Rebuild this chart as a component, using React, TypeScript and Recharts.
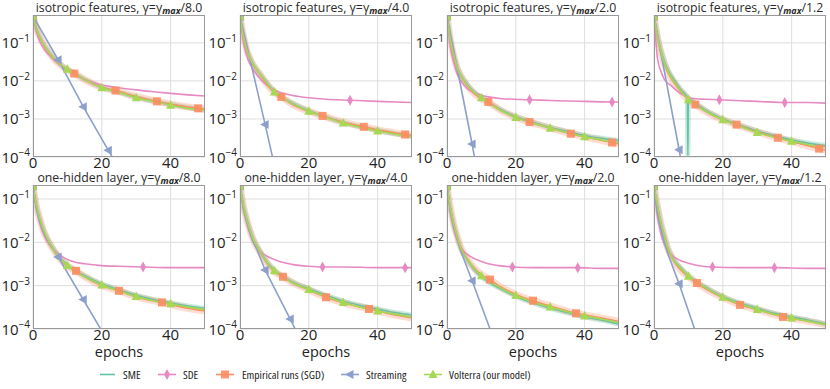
import React from 'react';
import { LineChart, Line, XAxis, YAxis, CartesianGrid } from 'recharts';

type Pt = [number, number];

// colours (Set2)
const SME_C = '#66c2a5';
const SDE_C = '#e78ac3';
const EMP_C = '#fc8d62';
const STR_C = '#8da0cb';
const VOL_C = '#a6d854';

const FONT = '"Open Sans", sans-serif';

// ---- isotropic features, gamma = gamma_max / 8.0
const ISO8_SME: Pt[] = [[0,0.5],[1,0.24],[2,0.14],[3,0.095],[4,0.068],[6,0.04],[8,0.027],[10,0.0205],[15,0.011],[20,0.0067],[25,0.005],[30,0.0037],[35,0.0029],[40,0.0024],[45,0.002],[50,0.0017]];
const ISO8_SDE: Pt[] = [[0,0.5],[1,0.2],[2,0.11],[3,0.075],[4,0.056],[5,0.045],[6,0.037],[8,0.026],[10,0.019],[12,0.015],[15,0.011],[20,0.0078],[25,0.0066],[30,0.0058],[35,0.0052],[40,0.0047],[45,0.0043],[50,0.004]];
const ISO8_EMP: Pt[] = [[0,0.5],[1,0.24],[2,0.14],[3,0.094],[4,0.067],[6,0.039],[8,0.026],[10,0.0195],[12,0.0156],[15,0.0108],[20,0.0068],[24,0.0056],[30,0.0039],[36,0.0029],[42,0.0023],[48,0.0019],[50,0.0018]];
const ISO8_STR: Pt[] = [[0,0.5],[7.3,0.036],[14.6,0.0021],[21.9,0.00015],[25,0.00005]];
const ISO8_VOL: Pt[] = [[0,0.5],[1,0.24],[2,0.14],[3,0.095],[4,0.068],[5,0.05],[6,0.04],[8,0.027],[10,0.0204],[12,0.0155],[15,0.011],[20,0.0066],[25,0.005],[30,0.0036],[35,0.0029],[40,0.0023],[45,0.0019],[50,0.0017]];

// ---- isotropic features, gamma_max / 4.0
const ISO4_SME: Pt[] = [[0,0.5],[1,0.15],[2,0.066],[3,0.039],[4,0.026],[6,0.0147],[8,0.0085],[10,0.0052],[15,0.0027],[20,0.00165],[25,0.00112],[30,0.0008],[35,0.00062],[40,0.0005],[45,0.00041],[50,0.00035]];
const ISO4_SDE: Pt[] = [[0,0.5],[1,0.11],[2,0.045],[3,0.027],[4,0.019],[6,0.011],[8,0.0075],[10,0.0058],[12,0.0049],[15,0.0042],[20,0.0036],[25,0.0033],[32,0.0031],[40,0.0029],[50,0.0027]];
const ISO4_EMP: Pt[] = [[0,0.5],[1,0.15],[2,0.064],[3,0.037],[4,0.025],[6,0.014],[8,0.0078],[10,0.005],[12,0.0038],[16,0.0022],[20,0.0016],[24,0.0012],[30,0.00082],[36,0.00062],[42,0.00048],[48,0.00039],[50,0.00037]];
const ISO4_STR: Pt[] = [[0,0.5],[7.3,0.00072],[10,0.00006]];
const ISO4_VOL: Pt[] = [[0,0.5],[1,0.15],[2,0.065],[3,0.038],[4,0.026],[5,0.019],[6,0.0145],[8,0.0083],[10,0.0051],[12,0.0039],[15,0.0026],[20,0.0016],[25,0.0011],[30,0.00078],[35,0.0006],[40,0.00048],[45,0.0004],[50,0.00034]];

// ---- isotropic features, gamma_max / 2.0
const ISO2_SME: Pt[] = [[0,0.5],[1,0.12],[2,0.046],[3,0.023],[4,0.0145],[6,0.0078],[8,0.005],[10,0.0037],[15,0.0019],[20,0.00115],[25,0.00082],[30,0.0006],[35,0.00047],[40,0.00037],[45,0.00031],[50,0.00027]];
const ISO2_SDE: Pt[] = [[0,0.5],[1,0.08],[2,0.03],[3,0.015],[4,0.01],[6,0.0062],[8,0.0049],[10,0.0042],[12,0.0038],[16,0.0034],[24,0.0032],[32,0.003],[40,0.0029],[48,0.0028],[50,0.0028]];
const ISO2_EMP: Pt[] = [[0,0.5],[1,0.12],[2,0.044],[3,0.021],[4,0.0135],[6,0.0072],[8,0.0046],[10,0.0034],[12,0.0028],[16,0.0016],[20,0.0011],[24,0.00083],[30,0.00058],[36,0.00041],[42,0.00031],[48,0.00024],[50,0.00022]];
const ISO2_STR: Pt[] = [[0,0.5],[7.3,0.00022],[9,0.00003]];
const ISO2_VOL: Pt[] = [[0,0.5],[1,0.12],[2,0.045],[3,0.022],[4,0.014],[5,0.01],[6,0.0075],[8,0.0049],[10,0.0036],[12,0.0027],[15,0.0018],[20,0.0011],[25,0.00078],[30,0.00057],[35,0.00044],[40,0.00034],[45,0.00028],[50,0.00023]];

// ---- isotropic features, gamma_max / 1.2
const ISO12_SME: Pt[] = [[0,0.5],[1,0.16],[2,0.065],[3,0.033],[4,0.02],[6,0.01],[8,0.0056],[9,0.0045],[9.7,0.0037],[9.85,0.00011],[10,0.0035],[11,0.003],[12,0.0026],[15,0.0017],[20,0.001],[25,0.00068],[30,0.00048],[35,0.00036],[40,0.00028],[45,0.00023],[50,0.0002]];
const ISO12_SDE: Pt[] = [[0,0.5],[1,0.04],[2,0.018],[3,0.011],[4,0.0088],[5,0.0075],[6,0.0062],[8,0.0045],[10,0.0036],[12,0.0034],[15,0.0033],[19,0.0032],[25,0.003],[30,0.0029],[38,0.0027],[45,0.0027],[50,0.0026]];
const ISO12_EMP: Pt[] = [[0,0.5],[1,0.14],[2,0.055],[3,0.028],[4,0.017],[6,0.0085],[8,0.005],[10,0.0032],[12,0.0024],[16,0.0014],[20,0.00095],[24,0.00071],[30,0.00046],[36,0.00032],[42,0.00023],[48,0.000166],[50,0.00015]];
const ISO12_STR: Pt[] = [[0,0.5],[7.3,0.000155],[9,0.00002]];
const ISO12_VOL: Pt[] = [[0,0.5],[1,0.15],[2,0.06],[3,0.03],[4,0.018],[5,0.0125],[6,0.009],[8,0.0052],[10,0.0032],[12,0.0024],[15,0.0016],[20,0.00096],[25,0.00064],[30,0.00044],[35,0.00033],[40,0.00026],[45,0.00021],[50,0.00018]];

// ---- one-hidden layer, gamma_max / 8.0
const HID8_SME: Pt[] = [[0,0.2],[1,0.07],[2,0.035],[3,0.02],[4,0.013],[6,0.0069],[8,0.0043],[10,0.003],[15,0.0017],[20,0.0011],[25,0.0008],[30,0.0006],[35,0.00048],[40,0.0004],[45,0.00034],[50,0.0003]];
const HID8_SDE: Pt[] = [[0,0.2],[1,0.06],[2,0.028],[3,0.016],[4,0.011],[6,0.0068],[8,0.005],[10,0.004],[12,0.0035],[15,0.0032],[20,0.0029],[25,0.0028],[32,0.0027],[40,0.0026],[50,0.0026]];
const HID8_EMP: Pt[] = [[0,0.2],[1,0.068],[2,0.034],[3,0.019],[4,0.0125],[6,0.0066],[8,0.004],[10,0.0028],[12.5,0.0022],[15,0.0016],[20,0.001],[25,0.00076],[30,0.00055],[37.5,0.00041],[45,0.0003],[50,0.00026]];
const HID8_STR: Pt[] = [[0,0.2],[1,0.06],[2,0.03],[3,0.018],[4,0.012],[6,0.0068],[7.3,0.0046],[14.6,0.00048],[21.9,0.00005]];
const HID8_VOL: Pt[] = [[0,0.2],[1,0.07],[2,0.035],[3,0.02],[4,0.013],[5,0.0093],[6,0.0068],[8,0.0042],[10,0.0029],[12,0.0022],[15,0.0016],[20,0.00104],[25,0.00075],[30,0.00056],[35,0.00045],[40,0.00038],[45,0.00032],[50,0.00028]];

// ---- one-hidden layer, gamma_max / 4.0
const HID4_SME: Pt[] = [[0,0.2],[1,0.07],[2,0.034],[3,0.0185],[4,0.0113],[6,0.006],[8,0.0034],[10,0.0023],[15,0.00125],[20,0.00085],[25,0.0006],[30,0.00044],[35,0.00035],[40,0.00029],[45,0.00024],[50,0.00021]];
const HID4_SDE: Pt[] = [[0,0.2],[1,0.06],[2,0.027],[3,0.015],[4,0.0095],[6,0.006],[8,0.0047],[10,0.004],[12,0.0035],[15,0.0031],[20,0.0028],[24,0.0027],[30,0.0027],[40,0.0026],[48,0.0026],[50,0.0026]];
const HID4_EMP: Pt[] = [[0,0.2],[1,0.068],[2,0.032],[3,0.0175],[4,0.0108],[6,0.0056],[8,0.0032],[10,0.0021],[12.5,0.0016],[15,0.0012],[20,0.0008],[25,0.00054],[30,0.0004],[37.5,0.00029],[45,0.00021],[50,0.00018]];
const HID4_STR: Pt[] = [[0,0.2],[1,0.06],[2,0.03],[3,0.016],[4,0.0098],[5,0.0066],[7.3,0.0023],[14.6,0.00017],[17,0.00007]];
const HID4_VOL: Pt[] = [[0,0.2],[1,0.07],[2,0.033],[3,0.018],[4,0.011],[5,0.0078],[6,0.0058],[8,0.0033],[10,0.0022],[12.5,0.0016],[15,0.0012],[20,0.00081],[25,0.00056],[30,0.00041],[35,0.00032],[40,0.00026],[45,0.00022],[50,0.00019]];

// ---- one-hidden layer, gamma_max / 2.0
const HID2_SME: Pt[] = [[0,0.2],[1,0.06],[2,0.025],[3,0.0128],[4,0.0073],[6,0.0038],[8,0.0023],[10,0.0016],[15,0.0009],[20,0.00057],[25,0.0004],[30,0.0003],[35,0.00024],[40,0.00019],[45,0.00016],[50,0.00013]];
const HID2_SDE: Pt[] = [[0,0.2],[1,0.05],[2,0.02],[3,0.011],[4,0.0075],[6,0.0052],[8,0.0042],[10,0.0036],[12,0.0032],[15,0.0029],[19,0.0027],[25,0.0026],[30,0.0026],[38,0.0026],[45,0.0025],[50,0.0025]];
const HID2_EMP: Pt[] = [[0,0.2],[1,0.062],[2,0.026],[3,0.0135],[4,0.0078],[6,0.004],[8,0.0025],[10,0.0018],[12.5,0.00138],[15,0.001],[20,0.00063],[25,0.00045],[30,0.00034],[37.5,0.00023],[45,0.00018],[50,0.00015]];
const HID2_STR: Pt[] = [[0,0.2],[1,0.05],[2,0.022],[3,0.012],[4,0.0063],[7.3,0.0013],[12.5,0.0001],[14.6,0.000035]];
const HID2_VOL: Pt[] = [[0,0.2],[1,0.06],[2,0.025],[3,0.013],[4,0.0075],[5,0.0052],[6,0.0039],[8,0.0024],[10,0.0017],[12.5,0.00125],[15,0.00095],[20,0.00059],[25,0.00042],[30,0.00032],[35,0.00025],[40,0.0002],[45,0.00017],[50,0.00014]];

// ---- one-hidden layer, gamma_max / 1.2
const HID12_SME: Pt[] = [[0,0.2],[1,0.07],[2,0.028],[3,0.0142],[4,0.0076],[6,0.0037],[8,0.0025],[10,0.0017],[15,0.00092],[20,0.00056],[25,0.0004],[30,0.0003],[35,0.00023],[40,0.00019],[45,0.00016],[50,0.00013]];
const HID12_SDE: Pt[] = [[0,0.2],[1,0.04],[2,0.016],[3,0.009],[4,0.0065],[6,0.0045],[8,0.0037],[10,0.0033],[12,0.003],[17,0.0027],[25,0.0026],[35,0.0026],[45,0.0025],[50,0.0025]];
const HID12_EMP: Pt[] = [[0,0.2],[1,0.068],[2,0.027],[3,0.0135],[4,0.0072],[6,0.0035],[8,0.0022],[10,0.0016],[12.5,0.00115],[15,0.00085],[20,0.00053],[25,0.00036],[30,0.00028],[37.5,0.00019],[45,0.00015],[50,0.000125]];
const HID12_STR: Pt[] = [[0,0.2],[1,0.05],[2,0.02],[3,0.01],[4,0.0055],[7.3,0.0011],[11.8,0.0001],[14.6,0.000025]];
const HID12_VOL: Pt[] = [[0,0.2],[1,0.07],[2,0.028],[3,0.014],[4,0.0075],[5,0.005],[6,0.0036],[8,0.0024],[10,0.00165],[12.5,0.0012],[15,0.0009],[20,0.00054],[25,0.00038],[30,0.00028],[35,0.00022],[40,0.00018],[45,0.00015],[50,0.000126]];

// marker epochs
const VOL_MARKS = [0, 10, 20, 30, 40];
const TOP_EMP_MARKS = [0, 12, 24, 36, 48];
const BOT_EMP_MARKS = [0, 12.5, 25, 37.5];
const STR_MARKS = [0, 7.3, 14.6, 21.9];

const X_TICKS = [0, 20, 40];
const Y_TICKS = [1e-4, 1e-3, 1e-2, 1e-1];
const GAMMAS = ['8.0', '4.0', '2.0', '1.2'];

const PLOT_LEFTS = [33, 240, 447, 654];
const PLOT_W = 172;
const Y_AXIS_W = 33;

const ROWS = [
  { name: 'isotropic features', top: 15, h: 142, max: 0.54, empMarks: TOP_EMP_MARKS, titleY: 12 },
  { name: 'one-hidden layer', top: 185, h: 144, max: 0.21, empMarks: BOT_EMP_MARKS, titleY: 182 },
];

const PANELS = [
  { row: 0, col: 0, sme: ISO8_SME, sde: ISO8_SDE, emp: ISO8_EMP, str: ISO8_STR, vol: ISO8_VOL, sdeMarks: [] as number[] },
  { row: 0, col: 1, sme: ISO4_SME, sde: ISO4_SDE, emp: ISO4_EMP, str: ISO4_STR, vol: ISO4_VOL, sdeMarks: [32] },
  { row: 0, col: 2, sme: ISO2_SME, sde: ISO2_SDE, emp: ISO2_EMP, str: ISO2_STR, vol: ISO2_VOL, sdeMarks: [24, 48] },
  { row: 0, col: 3, sme: ISO12_SME, sde: ISO12_SDE, emp: ISO12_EMP, str: ISO12_STR, vol: ISO12_VOL, sdeMarks: [19, 38] },
  { row: 1, col: 0, sme: HID8_SME, sde: HID8_SDE, emp: HID8_EMP, str: HID8_STR, vol: HID8_VOL, sdeMarks: [32] },
  { row: 1, col: 1, sme: HID4_SME, sde: HID4_SDE, emp: HID4_EMP, str: HID4_STR, vol: HID4_VOL, sdeMarks: [24, 48] },
  { row: 1, col: 2, sme: HID2_SME, sde: HID2_SDE, emp: HID2_EMP, str: HID2_STR, vol: HID2_VOL, sdeMarks: [19, 38] },
  { row: 1, col: 3, sme: HID12_SME, sde: HID12_SDE, emp: HID12_EMP, str: HID12_STR, vol: HID12_VOL, sdeMarks: [17, 35] },
];

const toRows = (pts: Pt[]) => pts.map(([x, y]) => ({ x, y }));

function Marker({ shape, x, y, color }: { shape: string; x: number; y: number; color: string }) {
  if (shape === 's') return <rect x={x - 4} y={y - 4} width={8} height={8} fill={color} fillOpacity={0.9} />;
  if (shape === '^') return <polygon points={`${x},${y - 5} ${x - 4.5},${y + 3.5} ${x + 4.5},${y + 3.5}`} fill={color} />;
  if (shape === '<') return <polygon points={`${x - 5},${y} ${x + 3.5},${y - 4.5} ${x + 3.5},${y + 4.5}`} fill={color} />;
  return <polygon points={`${x},${y - 5.5} ${x + 3},${y} ${x},${y + 5.5} ${x - 3},${y}`} fill={color} />;
}

const markerDot = (shape: string, color: string, marks: number[]) => (props: any) => {
  const { cx, cy, payload, index } = props;
  if (cx == null || cy == null || !marks.includes(payload.x)) return <g key={`n${index}`} />;
  return <Marker key={`m${index}`} shape={shape} x={cx} y={cy} color={color} />;
};

const LogTick = ({ x, y, payload }: any) => {
  const e = Math.round(Math.log10(payload.value));
  return (
    <text x={x} y={y + 5.5} textAnchor="end" fontFamily={FONT} fontSize={15} fill="#222">
      <tspan>10</tspan>
      <tspan dy={-6.5} fontSize={10}>{'\u2212' + Math.abs(e)}</tspan>
    </text>
  );
};

function Panel({ p }: { p: (typeof PANELS)[number] }) {
  const row = ROWS[p.row];
  const left = PLOT_LEFTS[p.col] - Y_AXIS_W;
  return (
    <div style={{ position: 'absolute', left, top: row.top }}>
      <LineChart width={Y_AXIS_W + PLOT_W} height={row.h + 22} margin={{ top: 0, right: 0, bottom: 0, left: 0 }}>
        <CartesianGrid stroke="#dedede" strokeWidth={1} />
        <XAxis
          type="number"
          dataKey="x"
          domain={[0, 50]}
          ticks={X_TICKS}
          allowDataOverflow
          axisLine={false}
          tickLine={false}
          tickSize={0}
          tickMargin={0}
          height={22}
          tick={{ fontSize: 15, fill: '#222', fontFamily: FONT }}
        />
        <YAxis
          type="number"
          dataKey="y"
          scale="log"
          domain={[1e-4, row.max]}
          ticks={Y_TICKS}
          allowDataOverflow
          axisLine={false}
          tickLine={false}
          tickSize={0}
          tickMargin={3}
          width={Y_AXIS_W}
          tick={<LogTick />}
        />
        {/* shaded spread of the runs */}
        <Line data={toRows(p.sme)} dataKey="y" type="monotone" stroke={SME_C} strokeOpacity={0.35} strokeWidth={5} dot={false} isAnimationActive={false} />
        <Line data={toRows(p.emp)} dataKey="y" type="monotone" stroke={EMP_C} strokeOpacity={0.3} strokeWidth={7} dot={false} isAnimationActive={false} />
        <Line data={toRows(p.sme)} dataKey="y" type="monotone" stroke={SME_C} strokeWidth={1.5} dot={false} isAnimationActive={false} />
        <Line data={toRows(p.sde)} dataKey="y" type="monotone" stroke={SDE_C} strokeWidth={1.6} dot={markerDot('d', SDE_C, p.sdeMarks)} isAnimationActive={false} />
        <Line data={toRows(p.emp)} dataKey="y" type="monotone" stroke={EMP_C} strokeWidth={1.5} dot={markerDot('s', EMP_C, row.empMarks)} isAnimationActive={false} />
        <Line data={toRows(p.str)} dataKey="y" type="linear" stroke={STR_C} strokeWidth={1.6} dot={markerDot('<', STR_C, STR_MARKS)} isAnimationActive={false} />
        <Line data={toRows(p.vol)} dataKey="y" type="monotone" stroke={VOL_C} strokeWidth={1.6} dot={markerDot('^', VOL_C, VOL_MARKS)} isAnimationActive={false} />
      </LineChart>
    </div>
  );
}

const LEGEND = [
  { label: 'SME', color: SME_C, shape: '', x0: 100, x1: 115, mx: 0, tx: 123 },
  { label: 'SDE', color: SDE_C, shape: 'd', x0: 158, x1: 176, mx: 167, tx: 183 },
  { label: 'Empirical runs (SGD)', color: EMP_C, shape: 's', x0: 216, x1: 234, mx: 225, tx: 242 },
  { label: 'Streaming', color: STR_C, shape: '<', x0: 341, x1: 359, mx: 350, tx: 366 },
  { label: 'Volterra (our model)', color: VOL_C, shape: '^', x0: 424, x1: 442, mx: 433, tx: 449 },
];

export default function App() {
  return (
    <div style={{ position: 'absolute', left: 0, top: 0, width: 830, height: 389, background: '#fff', overflow: 'hidden' }}>
      {PANELS.map((p, i) => (
        <Panel key={i} p={p} />
      ))}
      <svg width={830} height={389} style={{ position: 'absolute', left: 0, top: 0, pointerEvents: 'none' }}>
        {PANELS.map((p, i) => {
          const row = ROWS[p.row];
          return (
            <rect key={`f${i}`} x={PLOT_LEFTS[p.col] + 0.5} y={row.top + 0.5} width={PLOT_W - 1} height={row.h - 1} fill="none" stroke="#999" strokeWidth={1} />
          );
        })}
        {PANELS.map((p, i) => {
          const row = ROWS[p.row];
          const cx = PLOT_LEFTS[p.col] + PLOT_W / 2;
          return (
            <text key={`t${i}`} x={cx} y={row.titleY} textAnchor="middle" fontFamily={FONT} fontSize={12.3} fill="#2a2a2a">
              {row.name}, γ=γ
              <tspan fontStyle="italic" fontWeight="bold" fontSize={9} dy={2}>max</tspan>
              <tspan dy={-2}>/{GAMMAS[p.col]}</tspan>
            </text>
          );
        })}
        {PLOT_LEFTS.map((l, i) => (
          <text key={`e${i}`} x={l + PLOT_W / 2} y={356.5} textAnchor="middle" fontFamily={FONT} fontSize={14.5} fill="#222">
            epochs
          </text>
        ))}
        {LEGEND.map((it) => (
          <g key={it.label}>
            <line x1={it.x0} x2={it.x1} y1={374.5} y2={374.5} stroke={it.color} strokeWidth={1.6} />
            {it.shape && <Marker shape={it.shape} x={it.mx} y={374.5} color={it.color} />}
            <text x={it.tx} y={379} fontFamily={FONT} fontSize={11.5} fill="#222" style={{ fontStretch: 'condensed' }}>
              {it.label}
            </text>
          </g>
        ))}
      </svg>
    </div>
  );
}
